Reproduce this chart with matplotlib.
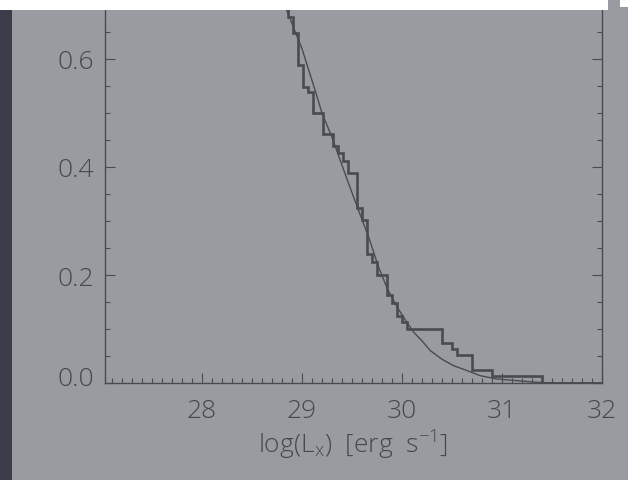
import matplotlib
matplotlib.use("Agg")
import matplotlib.pyplot as plt
import matplotlib.transforms as mtransforms
from matplotlib.patches import Rectangle
from matplotlib.ticker import MultipleLocator, FixedLocator

# ---- data ----
# empirical (step) distribution: x where each drop happens, level after the drop
step_x = [28.70, 28.86, 28.91, 28.957, 29.01, 29.057, 29.107, 29.207, 29.307,
          29.357, 29.407, 29.457, 29.553, 29.603, 29.65, 29.70, 29.745, 29.85,
          29.90, 29.95, 30.00, 30.05, 30.40, 30.50, 30.55, 30.70, 30.90, 31.395,
          32.0]
step_y = [0.72, 0.677, 0.649, 0.588, 0.549, 0.538, 0.500, 0.462, 0.438,
          0.426, 0.412, 0.388, 0.325, 0.301, 0.239, 0.224, 0.200, 0.163,
          0.149, 0.125, 0.113, 0.100, 0.075, 0.063, 0.051, 0.025, 0.0135, 0.0,
          0.0]

# smooth model curve
curve_x = [28.80, 28.85, 28.967, 29.00, 29.133, 29.20, 29.30, 29.383, 29.467,
           29.567, 29.667, 29.767, 29.85, 29.95, 30.05, 30.117, 30.20, 30.283,
           30.40, 30.517, 30.65, 30.783, 30.95, 31.15, 31.35, 31.55, 32.0]
curve_y = [0.711, 0.689, 0.634, 0.619, 0.541, 0.500, 0.455, 0.412, 0.369,
           0.319, 0.270, 0.214, 0.176, 0.141, 0.112, 0.094, 0.078, 0.060,
           0.044, 0.032, 0.023, 0.0135, 0.0074, 0.0043, 0.0013, 0.0, 0.0]

x_ticks = [28, 29, 30, 31, 32]
x_ticklabels = ["28", "29", "30", "31", "32"]
y_ticks = [0.0, 0.2, 0.4, 0.6]
y_ticklabels = ["0.0", "0.2", "0.4", "0.6"]
x_label = r"log(L$_{x}$)  [erg  s$^{-1}$]"

# ---- style ----
W, H = 628, 481
BG = "#9a9ba0"
INK = "#4a4b50"
TXT = "#47484d"
FS = 19
plt.rcParams["font.family"] = ["Open Sans", "DejaVu Sans"]
plt.rcParams["mathtext.default"] = "regular"

fig = plt.figure(figsize=(W / 100, H / 100), dpi=100)
fig.patch.set_facecolor(BG)

left, right, bottom, top = 105, 602, 384, 11
ax = fig.add_axes([left / W, 1 - bottom / H, (right - left) / W, (bottom - top) / H])
ax.set_facecolor(BG)

ax.step(step_x, step_y, where="post", color=INK, lw=1.9, solid_joinstyle="miter")
ax.plot(curve_x, curve_y, color=INK, lw=1.0)

ax.set_xlim(27.03, 32.0)
ax.set_ylim(0.0, (384 - 11) / 540)

ax.xaxis.set_major_locator(FixedLocator(x_ticks))
ax.set_xticklabels(x_ticklabels)
ax.yaxis.set_major_locator(FixedLocator(y_ticks))
ax.set_yticklabels(y_ticklabels)
ax.xaxis.set_minor_locator(MultipleLocator(0.1))
ax.yaxis.set_minor_locator(MultipleLocator(0.05))

for s in ["left", "right", "bottom"]:
    ax.spines[s].set_color(INK)
    ax.spines[s].set_linewidth(1.0)
ax.spines["top"].set_visible(False)

ax.tick_params(which="both", direction="in", color=INK, width=0.8,
               right=True, top=False, labelcolor=TXT, labelsize=FS)
ax.tick_params(which="major", length=7.2)
ax.tick_params(which="minor", length=3.6)
ax.tick_params(axis="x", which="major", pad=11)
ax.tick_params(axis="y", which="major", pad=8)
for lab in ax.get_xticklabels() + ax.get_yticklabels():
    lab.set_fontweight("light")

# the "0.0" label sits a little above the axis line
ylabs = ax.get_yticklabels()
ylabs[0].set_transform(ylabs[0].get_transform() +
                       mtransforms.ScaledTranslation(0, 7 / 100, fig.dpi_scale_trans))

ax.set_xlabel(x_label, fontsize=FS, color=TXT, fontweight="light", labelpad=3)

# photo framing: dark strip on the left and white band at the top
fig.patches.append(Rectangle((0, 0), 12 / W, 1 - 11 / H, transform=fig.transFigure,
                             facecolor="#3b3e4a", edgecolor="none", zorder=5))
fig.patches.append(Rectangle((0, 1 - 11 / H), 608 / W, 11 / H, transform=fig.transFigure,
                             facecolor="white", edgecolor="none", zorder=5))
fig.patches.append(Rectangle((620 / W, 1 - 8 / H), 8 / W, 8 / H, transform=fig.transFigure,
                             facecolor="white", edgecolor="none", zorder=5))

fig.savefig("out.png", dpi=100, facecolor=BG)
